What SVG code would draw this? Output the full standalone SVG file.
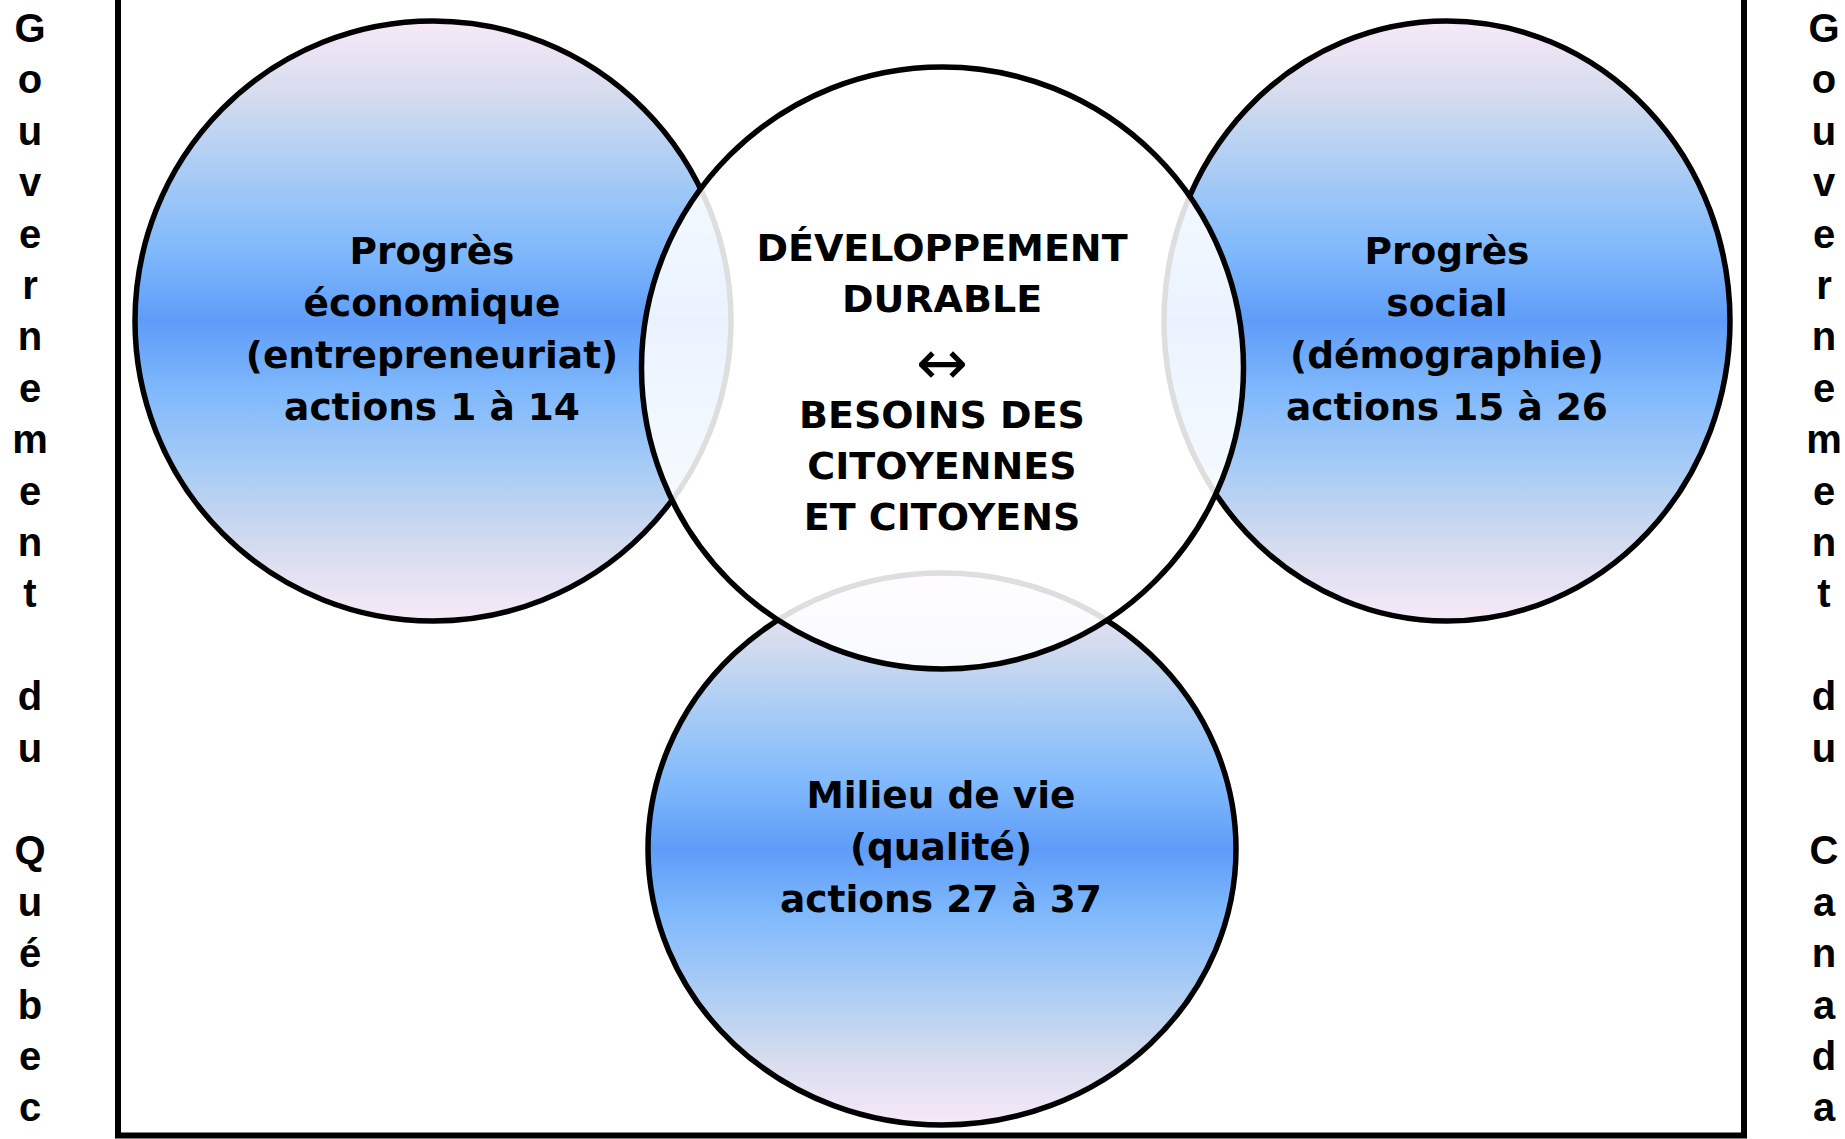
<svg xmlns="http://www.w3.org/2000/svg" width="1845" height="1139" viewBox="0 0 1845 1139">
<defs>
<linearGradient id="blueGrad" x1="0" y1="0" x2="0" y2="1">
<stop offset="0" stop-color="#f8e9f8"/>
<stop offset="0.12" stop-color="#d6dcee"/>
<stop offset="0.25" stop-color="#a9ccf5"/>
<stop offset="0.38" stop-color="#80b9fc"/>
<stop offset="0.5" stop-color="#5e9cf8"/>
<stop offset="0.62" stop-color="#80b9fc"/>
<stop offset="0.75" stop-color="#a9ccf5"/>
<stop offset="0.88" stop-color="#d6dcee"/>
<stop offset="1" stop-color="#f8e9f8"/>
</linearGradient>
<style>
.side{fill:url(#blueGrad);stroke:#000;stroke-width:5.5}
.core{fill:#fff;fill-opacity:0.87;stroke:#000;stroke-width:5.5}
.lbl{font-family:"DejaVu Sans",Verdana,sans-serif;font-weight:bold;font-size:37.5px;text-anchor:middle;fill:#000}
.ctr{font-family:"DejaVu Sans",Verdana,sans-serif;font-weight:bold;font-size:38px;text-anchor:middle;fill:#000}
.arr{font-family:"DejaVu Sans",sans-serif;font-size:62px;text-anchor:middle;fill:#000}
.vert{font-family:"Liberation Sans",Arial,sans-serif;font-weight:bold;font-size:40px;text-anchor:middle;fill:#000}
.frame{stroke:#000;stroke-width:6;fill:none}
</style>
</defs>
<rect x="0" y="0" width="1845" height="1139" fill="#fff"/>

<g id="frame">
<path class="frame" d="M118 0 V1136 M1744 0 V1136 M115 1135.5 H1747"/>
</g>

<g id="node-economique">
<ellipse class="side" cx="433" cy="321" rx="298" ry="300"/>
</g>
<g id="node-social">
<ellipse class="side" cx="1447" cy="321" rx="283" ry="300"/>
</g>
<g id="node-milieu">
<ellipse class="side" cx="942" cy="849" rx="294" ry="276"/>
</g>
<g id="node-developpement">
<circle class="core" cx="942.5" cy="368" r="301"/>
</g>

<g id="labels">
<text class="lbl" x="432" y="264">Progrès</text>
<text class="lbl" x="432" y="316">économique</text>
<text class="lbl" x="432" y="368">(entrepreneuriat)</text>
<text class="lbl" x="432" y="420">actions 1 à 14</text>

<text class="lbl" x="1447" y="264">Progrès</text>
<text class="lbl" x="1447" y="316">social</text>
<text class="lbl" x="1447" y="368">(démographie)</text>
<text class="lbl" x="1447" y="420">actions 15 à 26</text>

<text class="lbl" x="941" y="808">Milieu de vie</text>
<text class="lbl" x="941" y="860">(qualité)</text>
<text class="lbl" x="941" y="912">actions 27 à 37</text>

<text class="ctr" x="942" y="261">DÉVELOPPEMENT</text>
<text class="ctr" x="942" y="312">DURABLE</text>
<text class="arr" x="942" y="384">↔</text>
<text class="ctr" x="942" y="428">BESOINS DES</text>
<text class="ctr" x="942" y="479">CITOYENNES</text>
<text class="ctr" x="942" y="530">ET CITOYENS</text>
</g>

<g id="left-title">
<text class="vert" x="30" y="42">G</text>
<text class="vert" x="30" y="93.4">o</text>
<text class="vert" x="30" y="144.8">u</text>
<text class="vert" x="30" y="196.2">v</text>
<text class="vert" x="30" y="247.6">e</text>
<text class="vert" x="30" y="299">r</text>
<text class="vert" x="30" y="350.4">n</text>
<text class="vert" x="30" y="401.8">e</text>
<text class="vert" x="30" y="453.2">m</text>
<text class="vert" x="30" y="504.6">e</text>
<text class="vert" x="30" y="556">n</text>
<text class="vert" x="30" y="607.4">t</text>
<text class="vert" x="30" y="710.2">d</text>
<text class="vert" x="30" y="761.6">u</text>
<text class="vert" x="30" y="864.4">Q</text>
<text class="vert" x="30" y="915.8">u</text>
<text class="vert" x="30" y="967.2">é</text>
<text class="vert" x="30" y="1018.6">b</text>
<text class="vert" x="30" y="1070">e</text>
<text class="vert" x="30" y="1121.4">c</text>
</g>

<g id="right-title">
<text class="vert" x="1824" y="42">G</text>
<text class="vert" x="1824" y="93.4">o</text>
<text class="vert" x="1824" y="144.8">u</text>
<text class="vert" x="1824" y="196.2">v</text>
<text class="vert" x="1824" y="247.6">e</text>
<text class="vert" x="1824" y="299">r</text>
<text class="vert" x="1824" y="350.4">n</text>
<text class="vert" x="1824" y="401.8">e</text>
<text class="vert" x="1824" y="453.2">m</text>
<text class="vert" x="1824" y="504.6">e</text>
<text class="vert" x="1824" y="556">n</text>
<text class="vert" x="1824" y="607.4">t</text>
<text class="vert" x="1824" y="710.2">d</text>
<text class="vert" x="1824" y="761.6">u</text>
<text class="vert" x="1824" y="864.4">C</text>
<text class="vert" x="1824" y="915.8">a</text>
<text class="vert" x="1824" y="967.2">n</text>
<text class="vert" x="1824" y="1018.6">a</text>
<text class="vert" x="1824" y="1070">d</text>
<text class="vert" x="1824" y="1121.4">a</text>
</g>
</svg>
